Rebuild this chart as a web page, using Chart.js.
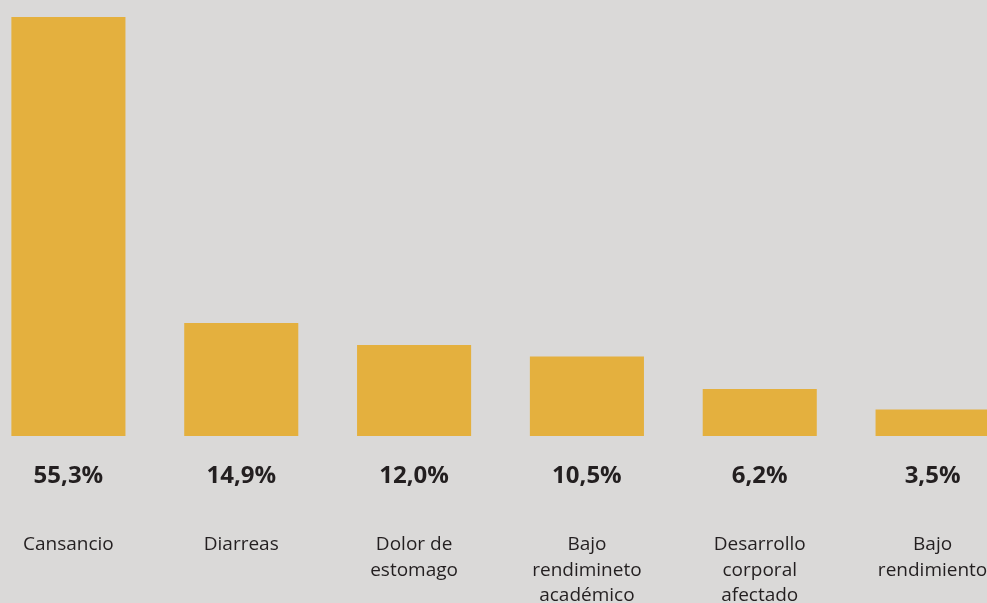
<!DOCTYPE html>
<html>
<head>
<meta charset="utf-8">
<script src="https://cdn.jsdelivr.net/npm/chart.js@4/dist/chart.umd.min.js"></script>
<style>
  html, body { margin: 0; padding: 0; background: #dad9d8; overflow: hidden; width: 987px; height: 603px; }
  #chart { position: absolute; left: -18px; top: 0; }
</style>
</head>
<body>
<canvas id="chart" width="1037" height="603"></canvas>
<script>
const categories = [
    ["Cansancio"],
    ["Diarreas"],
    ["Dolor de", "estomago"],
    ["Bajo", "rendimineto", "académico"],
    ["Desarrollo", "corporal", "afectado"],
    ["Bajo", "rendimiento"]
];
const values = [55.3, 14.9, 12.0, 10.5, 6.2, 3.5];
const valueLabels = ["55,3%", "14,9%", "12,0%", "10,5%", "6,2%", "3,5%"];

const barColor = "#e4b03e";
const textColor = "#231f20";
const fontFamily = "'Open Sans', 'Noto Sans', sans-serif";

// percentages and category names under each bar
const bottomLabels = {
    id: "bottomLabels",
    afterDraw(chart) {
        const ctx = chart.ctx;
        const x = chart.scales.x;
        const base = chart.chartArea.bottom;
        ctx.save();
        ctx.fillStyle = textColor;
        ctx.textAlign = "center";
        ctx.textBaseline = "middle";
        categories.forEach((lines, i) => {
            const cx = x.getPixelForValue(i);
            ctx.font = "bold 24px " + fontFamily;
            ctx.fillText(valueLabels[i], cx, base + 40);
            ctx.font = "19px " + fontFamily;
            lines.forEach((line, j) => {
                ctx.fillText(line, cx, base + 109 + j * 25.5);
            });
        });
        ctx.restore();
    }
};

const canvas = document.querySelector("#chart");
const chart = new Chart(canvas, {
    type: "bar",
    data: {
        labels: categories.map(l => l.join(" ")),
        datasets: [{
            data: values,
            backgroundColor: barColor,
            borderWidth: 0,
            categoryPercentage: 0.66,
            barPercentage: 1
        }]
    },
    options: {
        responsive: false,
        animation: false,
        layout: { padding: { top: 17, bottom: 167, left: 0, right: 0 } },
        plugins: { legend: { display: false }, tooltip: { enabled: false } },
        scales: {
            x: { display: false },
            y: { display: false, min: 0, max: 55.3 }
        }
    },
    plugins: [bottomLabels]
});
</script>
</body>
</html>
